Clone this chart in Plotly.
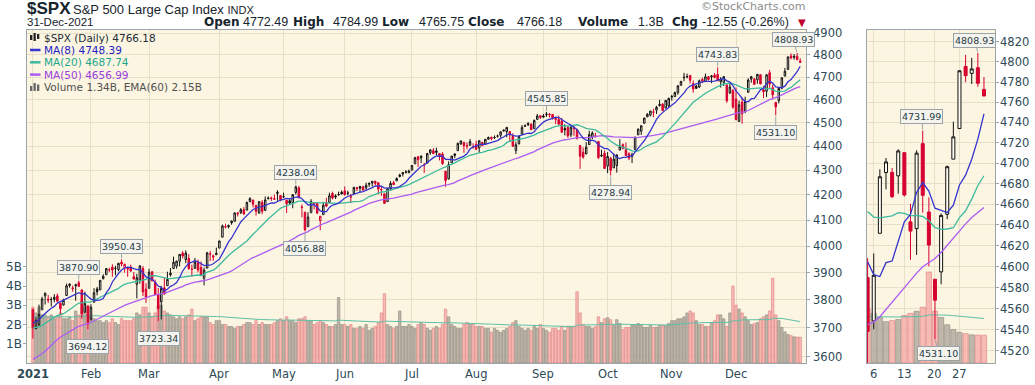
import math
import pandas as pd
import plotly.graph_objects as go

# ---------------- data ----------------
HOLIDAYS = ["2021-01-01", "2021-01-18", "2021-02-15", "2021-04-02", "2021-05-31",
            "2021-07-05", "2021-09-06", "2021-11-25", "2021-12-24"]
MONTH_LABELS = ["<b>2021</b>", "Feb", "Mar", "Apr", "May", "Jun", "Jul", "Aug", "Sep", "Oct", "Nov", "Dec"]
PRICE_TICKS = [3600, 3700, 3800, 3900, 4000, 4100, 4200, 4300, 4400, 4500, 4600, 4700, 4800, 4900]
ZOOM_TICKS = [4520, 4540, 4560, 4580, 4600, 4620, 4640, 4660, 4680, 4700, 4720, 4740, 4760, 4780, 4800, 4820]
VOL_TICKS_B = [1, 2, 3, 4, 5]

# closes before the charted period (for the moving averages)
prior_closes = [
    3426.92, 3443.12, 3435.56, 3453.49, 3465.39, 3400.97, 3390.68, 3271.03, 3310.11, 3269.96,
    3310.24, 3369.16, 3443.44, 3510.45, 3509.44, 3550.50, 3545.53, 3572.66, 3537.01, 3585.15,
    3626.91, 3609.53, 3567.79, 3581.87, 3557.54, 3577.59, 3635.41, 3629.65, 3638.35, 3621.63,
    3662.45, 3669.01, 3666.72, 3699.12, 3691.96, 3702.25, 3672.82, 3668.10, 3663.46, 3647.49,
    3694.62, 3701.17, 3722.48, 3709.41, 3694.92, 3687.26, 3690.01, 3703.06, 3735.36, 3727.04,
    3732.04, 3756.07]

opens = [
    3764.61, 3698.02, 3712.20, 3764.71, 3815.05, 3803.14, 3801.62, 3802.23, 3814.98, 3788.73, 3781.88, 3816.22, 3857.46, 3844.24, 3851.68, 3862.96, 3836.83, 3755.75, 3778.05,
    3731.17, 3791.84, 3840.27, 3836.66, 3878.30, 3892.59, 3910.49, 3920.78, 3916.40, 3911.65, 3939.61, 3918.50, 3915.86, 3921.16, 3885.55, 3857.07, 3873.71, 3915.80, 3839.66,
    3842.51, 3903.64, 3863.99, 3818.53, 3793.58, 3844.39, 3851.93, 3891.99, 3915.54, 3924.52, 3942.96, 3973.59, 3949.57, 3953.50, 3913.14, 3916.48, 3937.60, 3919.93, 3879.34, 3917.12, 3969.31, 3963.34, 3967.25,
    3992.78, 4034.44, 4075.57, 4074.29, 4089.95, 4096.11, 4124.71, 4130.10, 4141.58, 4139.76, 4174.14, 4179.80, 4159.18, 4128.42, 4170.46, 4138.78, 4185.03, 4188.25, 4185.14, 4206.14, 4198.10,
    4191.98, 4179.04, 4177.06, 4169.14, 4210.34, 4228.29, 4150.34, 4130.55, 4074.99, 4129.58, 4169.92, 4165.94, 4098.45, 4121.97, 4168.61, 4170.16, 4205.94, 4191.59, 4201.94, 4210.77,
    4216.52, 4206.82, 4191.43, 4206.05, 4229.34, 4233.81, 4232.99, 4228.56, 4242.90, 4248.31, 4255.28, 4248.87, 4220.37, 4204.78, 4173.40, 4224.61, 4249.27, 4256.97, 4274.45, 4284.90, 4293.21, 4290.65,
    4300.73, 4326.60, 4356.46, 4351.01, 4321.07, 4329.38, 4372.41, 4381.07, 4380.11, 4369.02, 4367.43, 4296.40, 4265.11, 4331.13, 4361.27, 4381.20, 4409.58, 4416.38, 4402.95, 4403.59, 4395.12,
    4406.86, 4392.74, 4415.95, 4408.86, 4429.07, 4437.77, 4435.79, 4442.18, 4446.08, 4464.84, 4461.65, 4462.12, 4440.94, 4382.44, 4410.56, 4450.29, 4484.40, 4490.45, 4493.75, 4474.10, 4513.76, 4529.75,
    4528.80, 4534.48, 4532.42, 4535.38, 4518.09, 4513.02, 4506.92, 4474.81, 4479.33, 4447.49, 4477.09, 4469.74, 4402.95, 4374.45, 4367.43, 4406.75, 4438.04, 4442.12, 4419.54, 4362.41, 4370.67,
    4317.16, 4348.84, 4309.87, 4319.57, 4383.73, 4406.51, 4385.44, 4368.31, 4358.01, 4386.75, 4447.69, 4463.72, 4497.34, 4524.42, 4532.24, 4546.12, 4553.69, 4578.69, 4580.22, 4562.84, 4572.87,
    4610.62, 4613.34, 4630.65, 4662.93, 4699.26, 4701.48, 4707.25, 4670.26, 4659.39, 4655.24, 4689.30, 4679.42, 4701.50, 4700.72, 4708.44, 4712.00, 4678.48, 4675.78, 4664.63, 4628.75, 4640.25,
    4602.82, 4504.73, 4589.49, 4548.37, 4631.97, 4690.86, 4691.00, 4687.64, 4710.30, 4642.99, 4636.46, 4719.13, 4652.50, 4587.90, 4594.96, 4650.36, 4703.96, 4733.99, 4795.49, 4788.64, 4794.23, 4772.49]

highs = [
    3769.99, 3737.83, 3783.04, 3811.55, 3826.69, 3817.86, 3810.78, 3820.96, 3823.60, 3788.73, 3804.53, 3859.75, 3861.45, 3852.31, 3859.23, 3870.90, 3836.83, 3830.50, 3778.05,
    3784.32, 3843.09, 3847.51, 3872.42, 3894.56, 3915.77, 3918.35, 3931.50, 3925.99, 3937.23, 3950.43, 3933.61, 3921.98, 3930.41, 3902.92, 3895.98, 3928.65, 3925.02, 3861.08,
    3914.50, 3906.41, 3874.47, 3843.67, 3851.69, 3881.06, 3903.76, 3917.35, 3960.27, 3944.99, 3970.08, 3981.04, 3983.87, 3969.62, 3930.12, 3955.31, 3949.13, 3942.08, 3919.54, 3978.19, 3981.83, 3968.01, 3994.41,
    4020.63, 4083.42, 4086.23, 4083.13, 4098.19, 4129.48, 4131.76, 4148.00, 4151.69, 4173.49, 4191.31, 4180.81, 4159.18, 4175.02, 4179.57, 4194.17, 4194.19, 4193.35, 4201.53, 4218.78, 4198.10,
    4209.39, 4179.04, 4187.72, 4202.70, 4238.04, 4236.39, 4162.04, 4134.73, 4131.58, 4183.13, 4171.92, 4169.15, 4116.93, 4172.80, 4188.72, 4209.52, 4213.42, 4202.61, 4213.38, 4218.36,
    4234.12, 4217.37, 4204.39, 4233.45, 4232.34, 4236.74, 4237.09, 4249.74, 4248.38, 4255.59, 4257.16, 4251.89, 4232.29, 4204.78, 4226.24, 4255.84, 4256.60, 4271.28, 4286.12, 4292.14, 4300.52, 4302.43,
    4320.66, 4355.43, 4356.46, 4361.88, 4330.88, 4371.60, 4386.68, 4392.37, 4393.68, 4369.02, 4375.09, 4296.40, 4336.84, 4359.70, 4369.87, 4415.18, 4422.73, 4416.38, 4415.47, 4429.97, 4412.25,
    4422.18, 4423.79, 4416.17, 4429.76, 4440.82, 4439.39, 4445.21, 4449.44, 4461.77, 4468.37, 4480.26, 4462.12, 4454.32, 4418.61, 4444.35, 4489.88, 4492.81, 4501.71, 4495.90, 4513.33, 4537.36, 4531.39,
    4537.11, 4545.85, 4541.45, 4535.38, 4521.79, 4529.90, 4520.47, 4492.99, 4485.68, 4486.87, 4485.87, 4471.52, 4402.95, 4394.87, 4416.75, 4465.40, 4463.12, 4457.30, 4419.54, 4385.57, 4382.55,
    4375.19, 4355.51, 4369.23, 4365.57, 4429.97, 4412.02, 4415.88, 4374.89, 4372.87, 4439.73, 4475.82, 4488.75, 4520.40, 4540.87, 4551.44, 4559.67, 4572.62, 4598.53, 4584.57, 4597.55, 4608.08,
    4620.34, 4635.15, 4663.46, 4683.00, 4718.50, 4714.92, 4708.53, 4684.85, 4664.55, 4688.47, 4697.42, 4714.95, 4701.50, 4708.80, 4717.75, 4743.83, 4699.39, 4702.87, 4664.63, 4672.95, 4646.02,
    4652.94, 4595.46, 4608.03, 4612.60, 4694.04, 4705.06, 4695.26, 4713.57, 4710.30, 4660.47, 4712.60, 4731.99, 4666.70, 4587.90, 4651.14, 4697.67, 4740.74, 4791.49, 4807.02, 4804.06, 4808.93, 4784.99]

lows = [
    3662.71, 3695.07, 3705.34, 3764.71, 3783.60, 3789.02, 3776.51, 3791.50, 3792.86, 3749.62, 3780.37, 3816.22, 3845.05, 3830.41, 3797.16, 3847.78, 3732.48, 3755.75, 3694.12,
    3725.62, 3791.84, 3816.68, 3836.66, 3874.93, 3892.59, 3902.64, 3884.94, 3890.39, 3905.78, 3923.85, 3900.43, 3885.03, 3903.07, 3874.71, 3805.59, 3859.60, 3814.04, 3789.54,
    3842.51, 3868.57, 3818.86, 3723.34, 3730.19, 3819.25, 3851.93, 3885.73, 3915.54, 3915.21, 3923.54, 3953.44, 3935.74, 3910.86, 3886.75, 3914.16, 3901.57, 3889.07, 3853.50, 3917.12, 3943.25, 3944.35, 3966.98,
    3992.78, 4034.44, 4068.14, 4068.31, 4082.54, 4095.51, 4114.82, 4124.43, 4120.87, 4139.76, 4170.75, 4150.47, 4118.38, 4126.35, 4123.69, 4138.78, 4182.36, 4176.22, 4181.78, 4176.81, 4174.85,
    4188.03, 4128.59, 4160.94, 4147.33, 4201.64, 4188.13, 4111.53, 4056.88, 4074.99, 4129.58, 4142.69, 4125.99, 4061.41, 4121.97, 4151.72, 4170.16, 4182.52, 4184.11, 4197.78, 4203.57,
    4197.59, 4198.27, 4167.93, 4206.05, 4215.66, 4208.41, 4218.74, 4220.34, 4232.25, 4234.07, 4238.35, 4202.45, 4196.05, 4164.40, 4173.40, 4217.27, 4241.43, 4256.97, 4271.16, 4274.67, 4287.04, 4287.96,
    4300.73, 4326.60, 4314.37, 4329.79, 4289.37, 4329.38, 4364.03, 4366.92, 4362.36, 4340.70, 4322.53, 4233.13, 4262.05, 4331.13, 4350.06, 4381.20, 4405.45, 4372.51, 4387.01, 4403.59, 4389.65,
    4384.81, 4373.00, 4400.23, 4408.86, 4429.07, 4424.74, 4430.03, 4436.42, 4435.96, 4460.82, 4437.66, 4417.83, 4397.59, 4367.73, 4406.80, 4450.29, 4482.28, 4485.66, 4468.99, 4474.10, 4513.76, 4515.80,
    4522.02, 4524.66, 4521.65, 4513.00, 4493.95, 4492.07, 4457.66, 4445.70, 4435.46, 4438.37, 4443.80, 4427.76, 4305.91, 4347.96, 4367.43, 4406.75, 4430.27, 4436.19, 4346.33, 4355.08, 4306.24,
    4288.52, 4278.94, 4309.87, 4290.49, 4383.73, 4386.22, 4360.59, 4342.09, 4329.92, 4386.75, 4447.69, 4447.47, 4496.41, 4524.40, 4526.89, 4524.00, 4537.36, 4569.17, 4551.66, 4562.84, 4567.59,
    4595.06, 4613.34, 4621.19, 4662.59, 4681.32, 4694.39, 4670.87, 4630.86, 4648.31, 4650.77, 4672.86, 4679.42, 4684.41, 4672.78, 4694.22, 4682.17, 4652.66, 4659.89, 4585.43, 4625.26, 4560.00,
    4510.27, 4504.73, 4495.12, 4540.51, 4631.97, 4674.52, 4665.98, 4670.24, 4667.60, 4606.52, 4611.22, 4651.89, 4600.22, 4531.10, 4583.16, 4645.53, 4703.96, 4733.99, 4780.04, 4778.08, 4775.33, 4765.75]

closes = [
    3700.65, 3726.86, 3748.14, 3803.79, 3824.68, 3799.61, 3801.19, 3809.84, 3795.54, 3768.25, 3798.91, 3851.85, 3853.07, 3841.47, 3855.36, 3849.62, 3750.77, 3787.38, 3714.24,
    3773.86, 3826.31, 3830.17, 3871.74, 3886.83, 3915.59, 3911.23, 3909.88, 3916.38, 3934.83, 3932.59, 3931.33, 3913.97, 3906.71, 3876.50, 3881.37, 3925.43, 3829.34, 3811.15,
    3901.82, 3870.29, 3819.72, 3768.47, 3841.94, 3821.35, 3875.44, 3898.81, 3939.34, 3943.34, 3968.94, 3962.71, 3974.12, 3915.46, 3913.10, 3940.59, 3910.52, 3889.14, 3909.52, 3974.54, 3971.09, 3958.55, 3972.89,
    4019.87, 4077.91, 4073.94, 4079.95, 4097.17, 4128.80, 4127.99, 4141.59, 4124.66, 4170.42, 4185.47, 4163.26, 4134.94, 4173.42, 4134.98, 4180.17, 4187.62, 4186.72, 4183.18, 4211.47, 4181.17,
    4192.66, 4164.66, 4167.59, 4201.62, 4232.60, 4188.43, 4152.10, 4063.04, 4112.50, 4173.85, 4163.29, 4127.83, 4115.68, 4159.12, 4155.86, 4197.05, 4188.13, 4195.99, 4200.88, 4204.11,
    4202.04, 4208.12, 4192.85, 4229.89, 4226.52, 4227.26, 4219.55, 4239.18, 4247.44, 4255.15, 4246.59, 4223.70, 4221.86, 4166.45, 4224.79, 4246.44, 4241.84, 4266.49, 4280.70, 4290.61, 4291.80, 4297.50,
    4319.94, 4352.34, 4343.54, 4358.13, 4320.82, 4369.55, 4384.63, 4369.21, 4374.30, 4360.03, 4327.16, 4258.49, 4323.06, 4358.69, 4367.48, 4411.79, 4422.30, 4401.46, 4400.64, 4419.15, 4395.26,
    4387.16, 4423.15, 4402.66, 4429.10, 4436.52, 4432.35, 4436.75, 4442.41, 4460.83, 4468.00, 4479.71, 4448.08, 4400.27, 4405.80, 4441.67, 4479.53, 4486.23, 4496.19, 4470.00, 4509.37, 4528.79, 4522.68,
    4524.09, 4536.95, 4535.43, 4520.03, 4514.07, 4493.28, 4458.58, 4468.73, 4443.05, 4480.70, 4473.75, 4432.99, 4357.73, 4354.19, 4395.64, 4448.98, 4455.48, 4443.11, 4352.63, 4359.46, 4307.54,
    4357.04, 4300.46, 4345.72, 4363.55, 4399.76, 4391.34, 4361.19, 4350.65, 4363.80, 4438.26, 4471.37, 4486.46, 4519.63, 4536.19, 4549.78, 4544.90, 4566.48, 4574.79, 4551.68, 4596.42, 4605.38,
    4613.67, 4630.65, 4660.57, 4680.06, 4697.53, 4701.70, 4685.25, 4646.71, 4649.27, 4682.85, 4682.80, 4700.90, 4688.67, 4704.54, 4697.96, 4682.94, 4690.70, 4701.46, 4594.62, 4655.27, 4567.00,
    4513.04, 4577.10, 4538.43, 4591.67, 4686.75, 4701.21, 4667.45, 4712.02, 4668.97, 4634.09, 4709.85, 4668.67, 4620.64, 4568.02, 4649.23, 4696.56, 4725.79, 4791.19, 4786.35, 4793.06, 4778.73, 4766.18]

# daily volume, billions
volumes_b = [
    2.9, 2.6, 2.9, 2.5, 2.5, 2.4, 2.5, 2.3, 2.4, 2.6, 2.3, 2.3, 2.4, 2.2, 2.7, 2.5, 3.2, 2.9, 3.0,
    2.4, 2.3, 2.2, 2.2, 2.1, 2.2, 2.1, 2.3, 2.1, 2.0, 2.3, 2.2, 2.2, 2.2, 2.3, 2.6, 2.5, 2.9, 2.9,
    2.6, 2.4, 2.6, 3.0, 3.0, 2.7, 2.6, 2.5, 2.4, 2.3, 2.4, 2.3, 2.4, 2.5, 2.8, 2.2, 2.3, 2.4, 2.4, 2.4, 2.1, 2.0, 2.2,
    2.2, 2.0, 2.0, 1.9, 1.9, 1.8, 1.9, 1.9, 2.0, 2.1, 2.1, 2.0, 2.2, 2.0, 2.1, 2.0, 2.0, 2.0, 2.1, 2.2, 2.3,
    2.2, 2.4, 2.2, 2.2, 2.1, 2.3, 2.3, 2.4, 2.2, 2.2, 2.0, 2.1, 2.2, 2.1, 2.0, 1.9, 1.9, 2.0, 3.4, 2.0,
    2.0, 1.9, 2.0, 1.8, 1.8, 1.9, 1.8, 2.0, 1.7, 1.8, 1.9, 2.1, 2.6, 3.6, 2.0, 1.9, 1.8, 1.9, 2.7, 1.9, 1.9, 2.0,
    1.9, 1.8, 2.0, 2.1, 2.0, 1.8, 1.7, 1.8, 1.9, 1.8, 2.0, 2.8, 2.4, 2.0, 1.9, 1.8, 1.8, 2.0, 2.1, 2.0, 2.0,
    1.9, 1.9, 1.9, 1.8, 1.8, 1.6, 1.8, 1.7, 1.6, 1.7, 1.8, 1.9, 2.1, 2.2, 1.9, 1.8, 1.7, 1.8, 1.7, 1.9, 1.8, 2.0,
    1.8, 1.7, 1.6, 1.8, 1.8, 1.7, 1.9, 1.7, 1.9, 1.9, 1.9, 3.7, 2.6, 2.0, 1.9, 1.9, 1.8, 1.9, 2.4, 2.1, 2.3,
    2.35, 2.25, 1.95, 2.25, 2.05, 1.75, 1.85, 1.85, 1.95, 1.95, 2.05, 1.95, 1.85, 1.85, 1.95, 1.85, 1.85, 1.95, 1.95, 1.95, 2.05,
    2.2, 2.2, 2.3, 2.3, 2.4, 2.6, 2.7, 2.6, 2.2, 2.0, 2.0, 1.9, 1.9, 2.1, 2.2, 2.5, 2.5, 2.3, 1.9, 2.6, 4.0,
    3.0, 2.8, 2.6, 2.4, 2.2, 2.0, 2.05, 2.1, 2.3, 2.4, 2.5, 2.7, 4.4, 2.5, 2.2, 1.85, 1.62, 1.48, 1.42, 1.36, 1.35, 1.34]
volume_ema_seed_b = 2.35

# callouts: (date, which) -> value read from highs/lows
MAIN_CALLOUTS = [("2021-01-26", "high"), ("2021-02-16", "high"), ("2021-01-29", "low"), ("2021-03-04", "low"),
                 ("2021-05-07", "high"), ("2021-05-12", "low"), ("2021-09-02", "high"), ("2021-10-04", "low"),
                 ("2021-11-22", "high"), ("2021-12-20", "low"), ("2021-12-30", "high")]
ZOOM_CALLOUTS = [("2021-12-30", "high"), ("2021-12-16", "high"), ("2021-12-20", "low")]

# ---------------- styling ----------------
W, H = 1035, 385
BG = "#fcf5e2"
GRID = "#e8dfc9"
FRAME = "#9aa6ac"
TXT = "#2e4a56"
DARK = "#16242c"
RED = "#d7002f"
BLACK = "#111111"
HOLLOW = "#fffcf3"
C_MA8, C_MA20, C_MA50, C_VEMA = "#3434cf", "#3dba9c", "#ad5cf2", "#5fbfa6"
VOL_UP_FILL, VOL_UP_LINE = "rgba(180,172,160,0.85)", "#8e877c"
VOL_DN_FILL, VOL_DN_LINE = "rgba(245,178,172,0.85)", "#e07a80"
TICKFONT = dict(family="DejaVu Sans", size=11.5, color=TXT)


def px(x):
    return x / W


def py(y):
    return 1 - y / H


# ---------------- derived ----------------
days = [d for d in pd.bdate_range("2021-01-01", "2021-12-31") if d.strftime("%Y-%m-%d") not in HOLIDAYS]
n = len(days)
assert n == len(opens) == len(highs) == len(lows) == len(closes) == len(volumes_b)
xs = list(range(n))
day_str = [d.strftime("%Y-%m-%d") for d in days]
month_starts = [i for i in range(n) if i == 0 or days[i].month != days[i - 1].month]
dec_ticks = [i for i in range(n) if days[i].month == 12 and days[i].day in (6, 13, 20, 27)]

all_c = prior_closes + closes
P = len(prior_closes)


def sma(k):
    return [sum(all_c[P + i - k + 1:P + i + 1]) / k for i in range(n)]


ma8, ma20, ma50 = sma(8), sma(20), sma(50)
vol = [v * 1e9 for v in volumes_b]
alpha = 2 / 61
vema, e = [], volume_ema_seed_b * 1e9
for v in vol:
    e = e + alpha * (v - e)
    vema.append(e)

prev_close = [prior_closes[-1]] + closes[:-1]
is_down = [c < p for c, p in zip(closes, prev_close)]

fig = go.Figure()


def add_panel(xa, yv, yp, lo_idx, hi_idx, bar_w, lw):
    idx = list(range(lo_idx, hi_idx))
    fig.add_trace(go.Bar(
        x=[xs[i] for i in idx], y=[vol[i] for i in idx], width=bar_w,
        marker=dict(color=[VOL_DN_FILL if is_down[i] else VOL_UP_FILL for i in idx],
                    line=dict(color=[VOL_DN_LINE if is_down[i] else VOL_UP_LINE for i in idx], width=0.6)),
        xaxis=xa, yaxis=yv, hoverinfo="skip"))
    fig.add_trace(go.Scatter(x=[xs[i] for i in idx], y=[vema[i] for i in idx], mode="lines",
                             line=dict(color=C_VEMA, width=1), xaxis=xa, yaxis=yv, hoverinfo="skip"))
    for series, col in ((ma50, C_MA50), (ma20, C_MA20), (ma8, C_MA8)):
        fig.add_trace(go.Scatter(x=[xs[i] for i in idx], y=[series[i] for i in idx], mode="lines",
                                 line=dict(color=col, width=lw), xaxis=xa, yaxis=yp, hoverinfo="skip"))
    for down_flag, col in ((False, BLACK), (True, RED)):
        sel = [i for i in idx if is_down[i] == down_flag]
        fig.add_trace(go.Candlestick(
            x=[xs[i] for i in sel], open=[opens[i] for i in sel], high=[highs[i] for i in sel],
            low=[lows[i] for i in sel], close=[closes[i] for i in sel],
            increasing=dict(line=dict(color=col, width=1), fillcolor=HOLLOW),
            decreasing=dict(line=dict(color=col, width=1), fillcolor=col),
            whiskerwidth=0, xaxis=xa, yaxis=yp, hoverinfo="skip"))


add_panel("x", "y", "y2", 0, n, 0.8, 1.3)
z0 = day_str.index("2021-12-03")
add_panel("x2", "y3", "y4", z0, n, 0.85, 1.3)

MAIN_T, MAIN_B = 30, 363
common = dict(automargin=False, zeroline=False)
fig.update_layout(
    width=W, height=H, margin=dict(l=0, r=0, t=0, b=0, autoexpand=False),
    paper_bgcolor="white", plot_bgcolor=BG, showlegend=False, boxgap=0.3, bargap=0.1,
    xaxis=dict(domain=[px(27), px(806)], range=[-1.93, 252.9], anchor="y",
               tickvals=month_starts, showticklabels=False,
               showgrid=True, gridcolor=GRID, gridwidth=1, ticks="", showline=True, linecolor=FRAME, mirror=True,
               rangeslider=dict(visible=False), **common),
    yaxis=dict(domain=[py(MAIN_B), py(MAIN_T)], range=[0, 17.3e9], anchor="x", side="left",
               tickvals=[v * 1e9 for v in VOL_TICKS_B], showticklabels=False,
               showgrid=False, ticks="outside", ticklen=3, tickcolor=FRAME,
               showline=True, linecolor=FRAME, mirror=True, **common),
    yaxis2=dict(overlaying="y", anchor="x", side="right", type="log",
                range=[math.log10(3578.4), math.log10(4915.4)], tickvals=PRICE_TICKS, showticklabels=False,
                showgrid=True, gridcolor=GRID, ticks="outside", ticklen=3, tickcolor=FRAME, **common),
    xaxis2=dict(domain=[px(867), px(995)], range=[231.9, 252.8], anchor="y3",
                tickvals=dec_ticks, showticklabels=False,
                showgrid=True, gridcolor=GRID, ticks="", showline=True, linecolor=FRAME, mirror=True,
                rangeslider=dict(visible=False), **common),
    yaxis3=dict(domain=[py(MAIN_B), py(MAIN_T)], range=[0, 16.1e9], anchor="x2", showticklabels=False,
                showgrid=False, ticks="", showline=True, linecolor=FRAME, mirror=True, **common),
    yaxis4=dict(overlaying="y3", anchor="x2", side="right", type="log",
                range=[math.log10(4508.7), math.log10(4832.0)], tickvals=ZOOM_TICKS, showticklabels=False,
                showgrid=True, gridcolor=GRID, ticks="outside", ticklen=3, tickcolor=FRAME, **common),
)

ann = []
shapes = []


def label(x, y, text, xref="paper", yref="paper", xanchor="left", font=None):
    return dict(x=x, y=y, xref=xref, yref=yref, xanchor=xanchor, yanchor="middle", showarrow=False,
                text=text, font=font or TICKFONT)


# axis tick labels
for v in PRICE_TICKS:
    ann.append(label(px(811), math.log10(v), str(v), yref="y2"))
for v in ZOOM_TICKS:
    ann.append(label(px(998), math.log10(v), str(v), yref="y4"))
for v in VOL_TICKS_B:
    ann.append(label(px(23.5), v * 1e9, f"{v}B", yref="y", xanchor="right",
                     font=dict(family="DejaVu Sans", size=12, color=TXT)))
for i, t in zip(month_starts, MONTH_LABELS):
    ann.append(label(xs[i], py(373.5), t, xref="x", xanchor="center",
                     font=dict(family="DejaVu Sans", size=11.5, color=TXT)))
for i in dec_ticks:
    ann.append(label(xs[i], py(373.5), str(days[i].day), xref="x2", xanchor="center",
                     font=dict(family="DejaVu Sans", size=11.5, color=TXT)))

# header
ann.append(label(px(25), py(8.5), "<b>$SPX</b>", font=dict(family="Liberation Sans", size=17, color=DARK)))
ann.append(label(px(71), py(9.5), "S&amp;P 500 Large Cap Index <span style='font-size:11px'>INDX</span>",
                 font=dict(family="Liberation Sans", size=13, color=DARK)))
ann.append(label(px(25), py(22), "31-Dec-2021", font=dict(family="Liberation Sans", size=11.5, color=DARK)))
last = n - 1
chg = closes[last] - closes[last - 1]
BOLD = dict(family="DejaVu Sans", size=12, color=DARK)
REG = dict(family="Liberation Sans", size=12.5, color=DARK)
tokens = [(202, "<b>Open</b>", BOLD), (241, "{:.2f}".format(opens[last]), REG),
          (291, "<b>High</b>", BOLD), (331, "{:.2f}".format(highs[last]), REG),
          (380, "<b>Low</b>", BOLD), (417, "{:.2f}".format(lows[last]), REG),
          (466, "<b>Close</b>", BOLD), (515, "{:.2f}".format(closes[last]), REG),
          (576, "<b>Volume</b>", BOLD), (636, "{:.1f}B".format(volumes_b[last]), REG),
          (670, "<b>Chg</b>", BOLD), (700, "{:.2f} ({:.2f}%)".format(chg, chg / closes[last - 1] * 100), REG),
          (796, "▼", dict(family="DejaVu Sans", size=10, color="#c0002a"))]
for xx, t, f in tokens:
    ann.append(label(px(xx), py(22), t, font=f))
ann.append(label(px(807), py(6.5), "©StockCharts.com", xanchor="right",
                 font=dict(family="DejaVu Sans", size=11, color="#8c8c8c")))

# legend
leg = [("$SPX (Daily) {:.2f}".format(closes[last]), "#1e2e36", None),
       ("MA(8) {:.2f}".format(ma8[last]), "#1e1ec0", C_MA8),
       ("MA(20) {:.2f}".format(ma20[last]), "#22a58b", C_MA20),
       ("MA(50) {:.2f}".format(ma50[last]), "#9a3fe0", C_MA50),
       ("Volume {:.2f}B, EMA(60) {:.2f}B".format(volumes_b[last], vema[last] / 1e9), "#505050", None)]
for k, (t, col, linecol) in enumerate(leg):
    yy = 37.7 + k * 12.3
    ann.append(label(px(41.5), py(yy), t, font=dict(family="DejaVu Sans", size=10.5, color=col)))
    if linecol:
        shapes.append(dict(type="line", xref="paper", yref="paper", x0=px(30), x1=px(40.5), y0=py(yy), y1=py(yy),
                           line=dict(color=linecol, width=2.5)))
for j, (h0, h1) in enumerate(((35, 40), (33, 41), (34, 39))):
    shapes.append(dict(type="rect", xref="paper", yref="paper", x0=px(30 + j * 3.5), x1=px(32.3 + j * 3.5),
                       y0=py(h1), y1=py(h0), fillcolor="#222222", line=dict(width=0)))
for j, h0 in enumerate((86, 83, 84.5)):
    shapes.append(dict(type="rect", xref="paper", yref="paper", x0=px(30 + j * 3.5), x1=px(32.3 + j * 3.5),
                       y0=py(91), y1=py(h0), fillcolor="#666666", line=dict(width=0)))


def callout(date, which, xa, ya, ax, ay):
    i = day_str.index(date)
    val = highs[i] if which == "high" else lows[i]
    return dict(x=xs[i], y=math.log10(val), xref=xa, yref=ya, text="{:.2f}".format(val),
                showarrow=True, arrowhead=0, arrowwidth=1, arrowcolor="#9aa4a8", ax=ax, ay=ay, standoff=1,
                bgcolor="#f4f3ee", bordercolor="#9aa4a8", borderwidth=1, borderpad=1,
                font=dict(family="DejaVu Sans", size=9.5, color="#1f3a44"))


for date, which in MAIN_CALLOUTS:
    ay = -13 if which == "high" else 17
    ax = -4 if date == "2021-12-30" else 0
    ann.append(callout(date, which, "x", "y2", ax, ay))
zoff = {"2021-12-30": (-3, -13), "2021-12-16": (-1, -14), "2021-12-20": (4, 14)}
for date, which in ZOOM_CALLOUTS:
    ax, ay = zoff[date]
    ann.append(callout(date, which, "x2", "y4", ax, ay))

fig.update_layout(annotations=ann, shapes=shapes)
fig.write_html("out.html", config={"displayModeBar": False},
               post_script="document.body.style.margin='0';document.body.style.overflow='hidden';")
